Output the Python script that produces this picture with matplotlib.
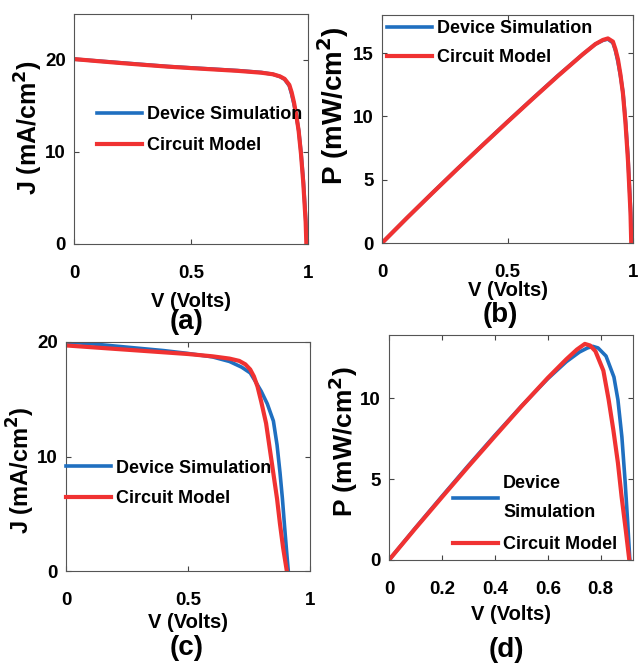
import matplotlib
matplotlib.use("Agg")
import matplotlib.pyplot as plt

# panel (a): J-V, cell 1
va_dev = [0, 0.1, 0.2, 0.3, 0.4, 0.5, 0.6, 0.7, 0.8, 0.85, 0.88, 0.9, 0.92, 0.93,
          0.94, 0.95, 0.96, 0.97, 0.98, 0.99, 0.995]
ja_dev = [20.1, 19.9, 19.7, 19.5, 19.3, 19.15, 19.0, 18.85, 18.65, 18.45, 18.2, 17.9,
          17.2, 16.3, 15.2, 13.9, 12.4, 10.0, 6.9, 2.8, 0.3]
va_mod = [0, 0.1, 0.2, 0.3, 0.4, 0.5, 0.6, 0.7, 0.8, 0.85, 0.88, 0.9, 0.92, 0.93,
          0.94, 0.95, 0.96, 0.97, 0.98, 0.99, 0.993]
ja_mod = [20.1, 19.88, 19.67, 19.47, 19.28, 19.12, 18.97, 18.82, 18.62, 18.45, 18.22, 17.95,
          17.3, 16.5, 15.4, 14.0, 12.3, 9.8, 6.6, 2.4, 0.0]

# panel (b): P-V, cell 1
pb_dev = [0, 1.99, 3.94, 5.85, 7.72, 9.58, 11.4, 13.2, 14.9, 15.7, 16.0, 16.1,
          15.8, 15.2, 14.3, 13.2, 11.9, 9.7, 6.8, 2.8, 0.3]
pb_mod = [0, 1.99, 3.93, 5.84, 7.71, 9.56, 11.38, 13.17, 14.9, 15.7, 16.03, 16.15,
          15.9, 15.3, 14.5, 13.3, 11.8, 9.5, 6.5, 2.4, 0.0]

# panel (c): J-V, cell 2
vc_dev = [0, 0.1, 0.2, 0.3, 0.4, 0.5, 0.6, 0.67, 0.72, 0.755, 0.775, 0.8, 0.825,
          0.85, 0.865, 0.877, 0.887, 0.895, 0.903, 0.911]
jc_dev = [20.0, 19.85, 19.65, 19.45, 19.25, 19.0, 18.7, 18.3, 17.8, 17.3, 16.6, 15.7,
          14.6, 13.1, 11.0, 8.6, 6.3, 4.1, 2.0, 0.0]
vc_mod = [0, 0.1, 0.2, 0.3, 0.4, 0.5, 0.6, 0.67, 0.71, 0.735, 0.755, 0.77, 0.785, 0.8,
          0.82, 0.835, 0.85, 0.865, 0.877, 0.89, 0.905]
jc_mod = [19.7, 19.55, 19.4, 19.25, 19.1, 18.95, 18.75, 18.55, 18.35, 18.05, 17.6, 17.0,
          16.1, 14.8, 12.9, 10.7, 8.5, 6.3, 4.1, 2.0, 0.0]

# panel (d): P-V, cell 2
vd_dev = [0, 0.1, 0.2, 0.3, 0.4, 0.5, 0.6, 0.67, 0.72, 0.75, 0.77, 0.79, 0.82, 0.85,
          0.865, 0.88, 0.892, 0.902, 0.91]
pd_dev = [0, 1.99, 3.93, 5.84, 7.70, 9.50, 11.2, 12.25, 12.85, 13.1, 13.2, 13.1, 12.6,
          11.3, 9.9, 7.6, 4.9, 2.3, 0.0]
vd_mod = [0, 0.1, 0.2, 0.3, 0.4, 0.5, 0.6, 0.67, 0.71, 0.74, 0.76, 0.78, 0.81, 0.83,
          0.848, 0.865, 0.879, 0.895, 0.908]
pd_mod = [0, 1.96, 3.88, 5.78, 7.64, 9.48, 11.25, 12.4, 13.0, 13.35, 13.25, 12.9, 11.7,
          9.9, 8.0, 6.0, 3.9, 1.8, 0.0]

BLUE = "#1f6fc0"
RED = "#f03232"
plt.rcParams["font.family"] = ["Liberation Sans", "DejaVu Sans"]
plt.rcParams["font.weight"] = "bold"

W, H = 638, 663
fig = plt.figure(figsize=(W / 100, H / 100), dpi=100)


def px_axes(left, top, right, bottom):
    return fig.add_axes([left / W, 1 - bottom / H, (right - left) / W, (bottom - top) / H])


def style(ax, xlim, ylim, xticks, yticks, xticklabels, yticklabels):
    ax.set_xlim(*xlim)
    ax.set_ylim(*ylim)
    ax.set_xticks(xticks)
    ax.set_xticklabels(xticklabels)
    ax.set_yticks(yticks)
    ax.set_yticklabels(yticklabels)
    ax.tick_params(direction="in", length=3.5, width=0.8, color="#444444",
                   top=True, right=True, labelsize=13.5)
    ax.tick_params(axis="x", pad=15)
    ax.tick_params(axis="y", pad=6)
    for s in ax.spines.values():
        s.set_color("#555555")
        s.set_linewidth(0.8)


def labels(ax, xl, yl, xl_y, yl_x, yl_y, ysize, sub, sub_x, sub_y):
    l, b, w, h = ax.get_position().bounds
    ax.set_xlabel(xl, fontsize=14.5, fontweight="bold")
    ax.xaxis.set_label_coords(0.5, ((1 - xl_y / H) - b) / h)
    ax.xaxis.label.set_va("center")
    ax.set_ylabel(yl, fontsize=ysize, fontweight="bold")
    ax.yaxis.set_label_coords((yl_x / W - l) / w, ((1 - yl_y / H) - b) / h)
    ax.yaxis.label.set_va("center")
    fig.text(sub_x / W, 1 - sub_y / H, sub, fontsize=20, fontweight="bold",
             ha="center", va="center")


def legend(ax, x, y, spacing=0.75):
    return ax.legend(loc="center left", bbox_to_anchor=(x, y), frameon=False, fontsize=13,
                     handlelength=2.5, handletextpad=0.28, labelspacing=spacing,
                     borderpad=0, borderaxespad=0)


# (a)
ax = px_axes(74, 14, 308, 244)
ax.plot(va_dev, ja_dev, color=BLUE, lw=2.6, label="Device Simulation")
ax.plot(va_mod, ja_mod, color=RED, lw=3.0, label="Circuit Model")
style(ax, (0, 1), (0, 25), [0, 0.5, 1], [0, 10, 20], ["0", "0.5", "1"], ["0", "10", "20"])
labels(ax, "V (Volts)", "J (mA/cm$^\\mathbf{2}$)", 302, 29, 128, 18, "(a)", 187, 322)
legend(ax, 0.098, 0.495)

# (b)
ax = px_axes(382, 15, 633, 243)
ax.plot(va_dev, pb_dev, color=BLUE, lw=2.6, label="Device Simulation")
ax.plot(va_mod, pb_mod, color=RED, lw=3.0, label="Circuit Model")
style(ax, (0, 1), (0, 18), [0, 0.5, 1], [0, 5, 10, 15], ["0", "0.5", "1"], ["0", "5", "10", "15"])
labels(ax, "V (Volts)", "P (mW/cm$^\\mathbf{2}$)", 290, 333, 106, 20, "(b)", 500, 315)
legend(ax, 0.02, 0.877, spacing=0.65)

# (c)
ax = px_axes(66, 342, 310, 571)
ax.plot(vc_dev, jc_dev, color=BLUE, lw=2.6, label="Device Simulation")
ax.plot(vc_mod, jc_mod, color=RED, lw=3.0, label="Circuit Model")
style(ax, (0, 1), (0, 20), [0, 0.5, 1], [0, 10, 20], ["0", "0.5", "1"], ["0", "10", "20"])
labels(ax, "V (Volts)", "J (mA/cm$^\\mathbf{2}$)", 622, 21, 470, 17, "(c)", 187, 648)
legend(ax, 0.0, 0.382)

# (d)
ax = px_axes(389, 335, 633, 560)
ax.plot(vd_dev, pd_dev, color=BLUE, lw=2.6, label="Device\nSimulation")
ax.plot(vd_mod, pd_mod, color=RED, lw=3.0, label="Circuit Model")
style(ax, (0, 0.922), (0, 13.9), [0, 0.2, 0.4, 0.6, 0.8], [0, 5, 10],
      ["0", "0.2", "0.4", "0.6", "0.8"], ["0", "5", "10"])
labels(ax, "V (Volts)", "P (mW/cm$^\\mathbf{2}$)", 615, 343, 442, 19, "(d)", 506, 650)
leg = legend(ax, 0.262, 0.205, spacing=0.85)
for t in leg.get_texts():
    t.set_linespacing(1.9)

fig.savefig("out.png", dpi=100)
